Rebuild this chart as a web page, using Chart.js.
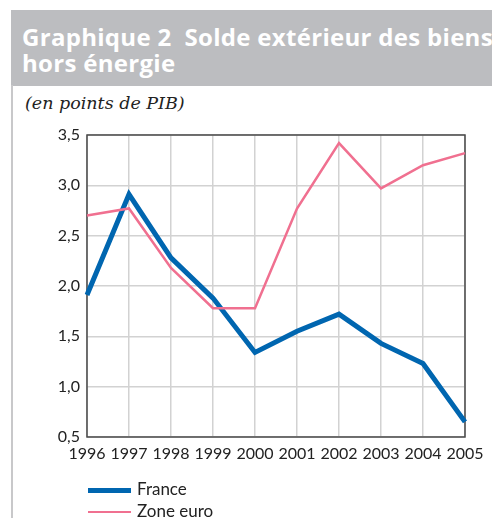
<!DOCTYPE html>
<html>
<head>
<meta charset="utf-8">
<script src="https://cdn.jsdelivr.net/npm/chart.js@4"></script>
<style>
  html, body { margin: 0; padding: 0; background: #fff; }
  #page { position: relative; width: 492px; height: 518px; overflow: hidden; }
  #vline { position: absolute; left: 11px; top: 85px; width: 2px; height: 440px; background: #c8c8ca; }
  #header { position: absolute; left: 11px; top: 10px; width: 481px; height: 76px; background: #bcbdc0;
    color: #fff; font-family: "Open Sans", sans-serif; font-weight: bold; font-size: 24px; line-height: 26px;
    letter-spacing: 0.3px; box-sizing: border-box; padding: 14px 0 0 11px; white-space: nowrap; overflow: hidden; }
  #sub { position: absolute; left: 25px; top: 93px; font-family: "DejaVu Serif", serif; font-style: italic;
    font-size: 17.5px; color: #222; }
  #chart { position: absolute; left: 0; top: 0; }
  .leg { position: absolute; left: 88px; font-family: Lato, sans-serif; font-size: 17px; color: #222; }
  .leg span.sw { position: absolute; left: 0; width: 43px; }
  .leg span.tx { position: absolute; left: 49px; top: -12px; white-space: nowrap; }
</style>
</head>
<body>
<div id="page">
  <div id="header">Graphique 2&nbsp; Solde extérieur des biens<br>hors énergie</div>
  <div id="sub">(en points de PIB)</div>
  <div id="vline"></div>
  <canvas id="chart" width="492" height="518"></canvas>
  <div class="leg" style="top:490px"><span class="sw" style="top:-2.5px;height:5px;background:#0066b0"></span><span class="tx">France</span></div>
  <div class="leg" style="top:512px"><span class="sw" style="top:-1.5px;height:2.5px;background:#f07090"></span><span class="tx">Zone euro</span></div>
</div>
<script>
const years = ['1996', '1997', '1998', '1999', '2000', '2001', '2002', '2003', '2004', '2005'];
const france = [1.91, 2.91, 2.28, 1.88, 1.34, 1.55, 1.72, 1.43, 1.23, 0.65];
const zoneEuro = [2.70, 2.77, 2.18, 1.78, 1.78, 2.77, 3.42, 2.97, 3.20, 3.32];

const frameBox = {
    id: 'frameBox',
    beforeDatasetsDraw(chart) {
        const { ctx, chartArea: a } = chart;
        ctx.save();
        ctx.strokeStyle = '#4a4a4a';
        ctx.lineWidth = 1.5;
        ctx.strokeRect(a.left, a.top, a.right - a.left, a.bottom - a.top);
        ctx.restore();
    }
};

new Chart(document.getElementById('chart').getContext('2d'), {
    type: 'line',
    data: {
        labels: years,
        datasets: [
            { label: 'Zone euro', data: zoneEuro, borderColor: '#f07090', borderWidth: 2.5, pointRadius: 0, tension: 0 },
            { label: 'France', data: france, borderColor: '#0066b0', borderWidth: 5, pointRadius: 0, tension: 0 }
        ]
    },
    options: {
        responsive: false,
        animation: false,
        layout: { padding: { left: 0, top: 135, right: 27, bottom: 51 } },
        plugins: { legend: { display: false }, tooltip: { enabled: false } },
        scales: {
            x: {
                offset: false,
                grid: { color: '#d2d2d2', lineWidth: 1.5, drawTicks: false },
                border: { display: false },
                ticks: { color: '#222', font: { family: 'Lato', size: 16 }, padding: 7, maxRotation: 0, autoSkip: false },
                afterFit: s => { s.height = 30; }
            },
            y: {
                min: 0.5, max: 3.5,
                grid: { color: '#d2d2d2', lineWidth: 1.5, drawTicks: false },
                border: { display: false },
                ticks: {
                    stepSize: 0.5, color: '#222', font: { family: 'Lato', size: 16 }, padding: 7,
                    callback: v => v.toFixed(1).replace('.', ',')
                },
                afterFit: s => { s.width = 87; }
            }
        }
    },
    plugins: [frameBox]
});
</script>
</body>
</html>
